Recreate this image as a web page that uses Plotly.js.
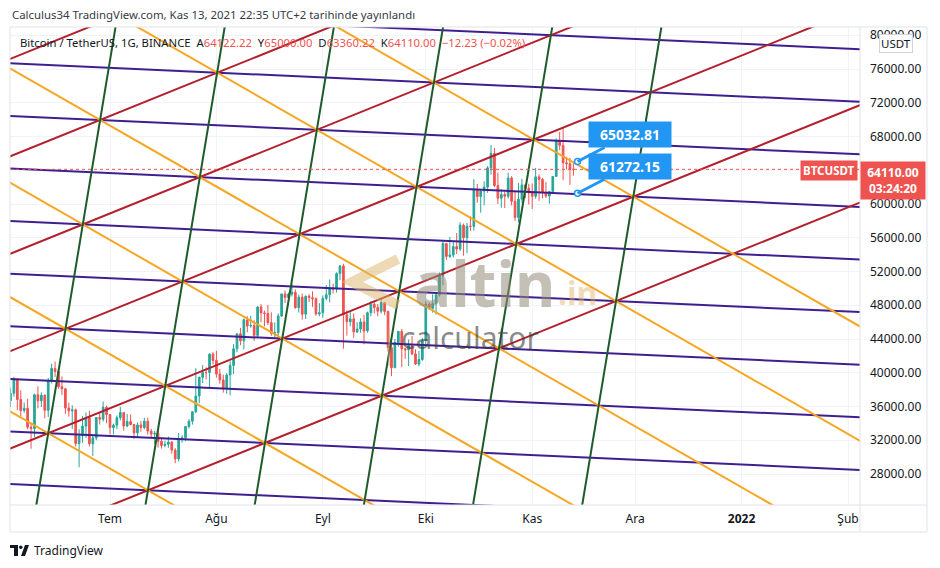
<!DOCTYPE html>
<html><head><meta charset="utf-8">
<script src="https://cdn.plot.ly/plotly-3.0.1.min.js"></script>
<style>html,body{margin:0;padding:0;background:#fff;}#chart{width:940px;height:568px;}</style>
</head><body><div id="chart"></div>
<script>
// ---------- DATA ----------
const dates = [
"2021-06-01","2021-06-02","2021-06-03","2021-06-04","2021-06-05","2021-06-06","2021-06-07","2021-06-08","2021-06-09","2021-06-10","2021-06-11","2021-06-12","2021-06-13","2021-06-14","2021-06-15","2021-06-16","2021-06-17","2021-06-18","2021-06-19","2021-06-20","2021-06-21","2021-06-22","2021-06-23","2021-06-24","2021-06-25","2021-06-26","2021-06-27","2021-06-28","2021-06-29","2021-06-30",
"2021-07-01","2021-07-02","2021-07-03","2021-07-04","2021-07-05","2021-07-06","2021-07-07","2021-07-08","2021-07-09","2021-07-10","2021-07-11","2021-07-12","2021-07-13","2021-07-14","2021-07-15","2021-07-16","2021-07-17","2021-07-18","2021-07-19","2021-07-20","2021-07-21","2021-07-22","2021-07-23","2021-07-24","2021-07-25","2021-07-26","2021-07-27","2021-07-28","2021-07-29","2021-07-30","2021-07-31",
"2021-08-01","2021-08-02","2021-08-03","2021-08-04","2021-08-05","2021-08-06","2021-08-07","2021-08-08","2021-08-09","2021-08-10","2021-08-11","2021-08-12","2021-08-13","2021-08-14","2021-08-15","2021-08-16","2021-08-17","2021-08-18","2021-08-19","2021-08-20","2021-08-21","2021-08-22","2021-08-23","2021-08-24","2021-08-25","2021-08-26","2021-08-27","2021-08-28","2021-08-29","2021-08-30","2021-08-31",
"2021-09-01","2021-09-02","2021-09-03","2021-09-04","2021-09-05","2021-09-06","2021-09-07","2021-09-08","2021-09-09","2021-09-10","2021-09-11","2021-09-12","2021-09-13","2021-09-14","2021-09-15","2021-09-16","2021-09-17","2021-09-18","2021-09-19","2021-09-20","2021-09-21","2021-09-22","2021-09-23","2021-09-24","2021-09-25","2021-09-26","2021-09-27","2021-09-28","2021-09-29","2021-09-30",
"2021-10-01","2021-10-02","2021-10-03","2021-10-04","2021-10-05","2021-10-06","2021-10-07","2021-10-08","2021-10-09","2021-10-10","2021-10-11","2021-10-12","2021-10-13","2021-10-14","2021-10-15","2021-10-16","2021-10-17","2021-10-18","2021-10-19","2021-10-20","2021-10-21","2021-10-22","2021-10-23","2021-10-24","2021-10-25","2021-10-26","2021-10-27","2021-10-28","2021-10-29","2021-10-30","2021-10-31",
"2021-11-01","2021-11-02","2021-11-03","2021-11-04","2021-11-05","2021-11-06","2021-11-07","2021-11-08","2021-11-09","2021-11-10","2021-11-11","2021-11-12","2021-11-13"];

const opens = [
37253,36694,37568,39246,36829,35516,35796,33556,33380,37389,36677,37331,35546,39021,40516,40143,38350,38100,35820,35484,35601,31614,32510,33675,34663,31576,32283,34702,34494,35912,
35045,33502,33786,34669,35288,33690,34221,33863,32875,33816,33502,34259,33086,32729,32820,31874,31384,31521,31779,30839,29791,32144,32288,33635,34262,35381,37242,39456,40019,40018,42207,
41461,39850,39146,38208,39744,40866,42832,44614,43794,46280,45543,45595,44428,47793,47096,47019,45937,44686,44741,46723,49339,48905,49322,49546,47706,48960,46942,49072,48895,48767,46970,
47100,48810,49247,50000,49918,51756,52666,46868,46048,46395,44842,45173,46025,44960,47103,48121,47737,47299,48314,47256,42961,40589,43576,44896,42839,42716,43209,42236,41035,41564,
43820,48142,47635,48200,49225,51472,55316,53786,53955,54949,54660,57471,56005,57373,57347,61672,60875,61528,62005,64280,66002,62193,60689,61125,60917,63079,60328,58414,60575,62254,61860,
61300,60912,63220,62897,61396,60940,61470,63274,67525,66947,64883,64774,64122];

const highs = [
37894,38225,39476,39289,37925,36480,36900,34068,37534,38400,37680,37463,39380,41064,41330,40527,39559,38199,36457,36137,35750,33298,34881,35298,35500,32730,34749,35297,36600,36100,
35057,33977,34945,35967,35293,35118,35059,33920,34100,34262,34666,34678,33340,33114,33185,32249,31939,32435,31899,31063,32858,32591,33650,34500,35398,40550,39542,40900,40640,42316,42448,
42599,40459,39780,39969,41350,43392,44700,45310,46454,46700,46743,46218,47886,48144,47372,48053,47160,45986,47033,49382,49757,49500,50500,49874,49277,49380,49169,49309,49653,48937,48246,
49156,50400,51054,50558,51900,52780,52920,47381,47400,47033,45987,46460,46880,47250,48500,48557,48150,48843,48372,47359,43639,44000,44978,45200,42961,43937,44350,42790,42590,44141,
48495,48353,49300,49530,51886,55750,55338,56100,55489,56561,57839,57680,57777,58532,62933,62378,61718,62695,64486,67000,66639,63732,61747,61470,63710,63293,61496,62499,62980,62359,62405,
62437,64270,63500,63086,62600,61560,63286,67789,68530,69000,65600,65450,65000];

const lows = [
35666,35920,37170,35567,34800,35256,33300,31000,32396,35782,35936,34600,34757,38730,39506,38116,37365,35129,34803,33336,31251,28805,31683,32286,31275,30151,32000,33862,34225,34017,
32711,32699,33316,34357,33125,33532,33777,32133,32261,33004,33307,32658,32203,31550,31133,31020,31164,31108,30407,29278,29482,31708,31925,33401,33851,35205,36383,38772,39200,38313,41000,
39422,38690,37642,37508,37332,39853,42446,43261,42779,44800,45341,43770,44217,45971,45500,45660,44376,44203,43955,46622,48274,48003,49029,47600,47123,46300,46375,48370,47801,46753,46700,
46512,48584,48349,49400,49500,50969,42843,44412,45513,44132,44722,44742,43370,44750,46700,47021,46699,47033,46829,42500,39600,40567,43089,40675,41646,40803,42098,40931,40753,41410,
43283,47438,47120,46891,49022,50382,53357,53617,53661,54080,54415,53879,54167,56818,56850,60150,58963,59844,61322,63481,62000,60000,59562,59524,60650,59817,58000,57820,60174,60673,59945,
59405,60624,60382,60677,60721,60050,61322,63273,66382,62822,64100,62278,63360];

const closes = [
36693,37568,39246,36829,35513,35796,33552,33380,37388,36675,37331,35546,39020,40516,40144,38349,38092,35820,35483,35600,31608,32509,33678,34663,31584,32283,34700,34494,35911,35045,
33504,33786,34669,35287,33690,34220,33862,32875,33815,33502,34259,33086,32729,32820,31880,31383,31520,31778,30839,29790,32144,32287,33634,34258,35381,37237,39457,40019,40016,42206,41461,
39846,39147,38207,39723,40862,42836,44614,43792,46285,45543,45595,44428,47793,47096,47019,45936,44686,44742,46723,49339,48905,49321,49546,47706,48960,46942,49058,48897,48767,46970,47100,
48810,49246,49999,49915,51756,52663,46863,46048,46395,44850,45173,46025,44940,47111,48121,47737,47300,48314,47255,42976,40588,43575,44896,42839,42717,43208,42235,41035,41564,43790,
48141,47634,48200,49224,51471,55315,53785,53951,54949,54659,57471,56005,57367,57347,61672,60875,61528,62010,64280,66001,62193,60689,61125,60916,63079,60329,58413,60575,62253,61859,61300,
60911,63219,62897,61395,60937,61470,63273,67525,66947,64882,64774,64122,64110];

const lastPrice = 64110.00;
const calloutDate = "2021-11-14 05:00";
const calloutPrices = [65032.81, 61272.15];
const calloutLabels = ["65032.81", "61272.15"];

const priceTicks = [28000,32000,36000,40000,44000,48000,52000,56000,60000,64000,68000,72000,76000,80000];
const priceTickLabels = ["28000.00","32000.00","36000.00","40000.00","44000.00","48000.00","52000.00","56000.00","60000.00","","68000.00","72000.00","76000.00","80000.00"];
const monthTickDates = ["2021-07-01","2021-08-01","2021-09-01","2021-10-01","2021-11-01","2021-12-01","2022-01-01","2022-02-01"];
const monthTickLabels = ["Tem","Ağu","Eyl","Eki","Kas","Ara","<b>2022</b>","Şub"];

// Gann-style grid: anchor point and two lattice steps (days, price)
const gridAnchorDate = "2021-06-13";
const gridAnchorPrice = 32836;
const gridStepR = [34.09, 5606];
const gridStepG = [5.04, 12373];
const purpleIdx = [-1,0,1,2,3,4,5,6,7,8];
const redIdx = [-1,0,1,2,3,4];
const orangeIdx = [0,1,2,3,4,5];
const greenIdx = [0,1,2,3,4,5];

// ---------- BUILD ----------
const W=940,H=568,M={l:10,r:80,t:27,b:63};
const PW=W-M.l-M.r, PH=H-M.t-M.b;
const fx=x=>(x-M.l)/PW, fy=y=>(H-M.b-y)/PH;
const DAY=86400000;
const anchorMs=Date.parse(gridAnchorDate+"T00:00:00Z");
const toStr=ms=>new Date(ms).toISOString().slice(0,19).replace('T',' ');
const vec=(a,b)=>[a*gridStepR[0]+b*gridStepG[0], a*gridStepR[1]+b*gridStepG[1]];

function family(indices, base, dir, color){
  const x=[],y=[];
  for(const k of indices){
    for(const t of [-14,14]){
      const d=k*base[0]+t*dir[0], p=k*base[1]+t*dir[1];
      x.push(toStr(anchorMs+d*DAY)); y.push(gridAnchorPrice+p);
    }
    x.push(null); y.push(null);
  }
  return {type:'scatter',mode:'lines',x,y,line:{color,width:2},hoverinfo:'skip',showlegend:false};
}

const UP='#26a69a', DN='#ef5350';
const traces=[
 {type:'candlestick',x:dates,open:opens,high:highs,low:lows,close:closes,
  increasing:{line:{color:UP,width:1},fillcolor:UP},
  decreasing:{line:{color:DN,width:1},fillcolor:DN},
  whiskerwidth:0,showlegend:false,hoverinfo:'skip'},
 family(purpleIdx, vec(1,0), vec(2,-1), '#3f1f8f'),
 family(redIdx, vec(0,1), vec(1,0), '#b3202c'),
 family(orangeIdx, vec(1,0), vec(1,-1), '#f5a623'),
 family(greenIdx, vec(1,0), vec(0,1), '#1e5b2b'),
 {type:'scatter',mode:'markers',x:[calloutDate,calloutDate],y:calloutPrices,
  marker:{size:6,color:'#ffffff',line:{color:'#2196f3',width:1.5}},hoverinfo:'skip',showlegend:false}
];

const F="'Noto Sans', 'Open Sans', sans-serif";
const TXT='#131722';
const sp='\u00a0';
const red=s=>`<span style="color:${DN}">${s}</span>`;
const legendText=`Bitcoin / TetherUS, 1G, BINANCE${sp}${sp}A${red('64122.22')}${sp}${sp}Y${red('65000.00')}${sp}${sp}D${red('63360.22')}${sp}${sp}K${red('64110.00')}${sp}${sp}${red('−12.23 (−0.02%)')}`;

const annotations=[
 {xref:'paper',yref:'paper',x:fx(10),y:fy(14),xanchor:'left',yanchor:'middle',showarrow:false,
  text:'Calculus34 TradingView.com, Kas 13, 2021 22:35 UTC+2 tarihinde yayınlandı',font:{family:F,size:11.4,color:'#363a45'}},
 {xref:'paper',yref:'paper',x:fx(18),y:fy(42),xanchor:'left',yanchor:'middle',showarrow:false,
  text:legendText,font:{family:F,size:11.3,color:TXT}},
 {xref:'paper',yref:'paper',x:fx(895.5),y:fy(44),xanchor:'center',yanchor:'middle',showarrow:false,
  text:'USDT',font:{family:F,size:11.5,color:TXT},bgcolor:'#ffffff',bordercolor:'#d1d4dc',borderwidth:1,borderpad:1},
 {xref:'paper',yref:'y',x:1,y:lastPrice,xanchor:'right',yanchor:'middle',xshift:-2,yshift:-1,showarrow:false,
  text:'<b>BTCUSDT</b>',font:{family:F,size:11.5,color:'#ffffff'},bgcolor:DN,borderpad:2},
 {xref:'paper',yref:'y',x:fx(860),y:lastPrice,xanchor:'left',yanchor:'top',yshift:8,showarrow:false,
  text:'<b>64110.00</b><br><b>03:24:20</b>',font:{family:F,size:12,color:'#ffffff'},bgcolor:DN,width:60,borderpad:2,align:'center'},
 {xref:'paper',yref:'paper',x:fx(484),y:fy(283),xanchor:'center',yanchor:'middle',showarrow:false,
  text:'<b>altin</b>',font:{family:F,size:62,color:'rgba(150,140,122,0.55)'}},
 {xref:'paper',yref:'paper',x:fx(577),y:fy(292),xanchor:'center',yanchor:'middle',showarrow:false,
  text:'<b>.in</b>',font:{family:F,size:32,color:'rgba(225,175,95,0.45)'}},
 {xref:'paper',yref:'paper',x:fx(470),y:fy(337),xanchor:'center',yanchor:'middle',showarrow:false,
  text:'calculator',font:{family:F,size:30,color:'rgba(60,60,60,0.6)'}},
 {xref:'paper',yref:'paper',x:fx(32),y:fy(550),xanchor:'left',yanchor:'middle',showarrow:false,
  text:'TradingView',font:{family:F,size:12,color:TXT}}
];
calloutPrices.forEach((p,i)=>{
  annotations.push({xref:'x',yref:'y',x:calloutDate,y:p,ax:52,ay:-27,axref:'pixel',ayref:'pixel',
   showarrow:true,arrowhead:0,arrowwidth:3,arrowcolor:'#2196f3',standoff:0,
   text:'<b>'+calloutLabels[i]+'</b>',font:{family:F,size:14,color:'#ffffff'},bgcolor:'#2196f3',
   width:76,height:19,borderpad:3});
});

const frameC='#e0e3eb';
const shapes=[
 {type:'line',xref:'paper',yref:'y',x0:0,x1:1,y0:lastPrice,y1:lastPrice,line:{color:DN,width:1,dash:'dot'}},
 {type:'rect',xref:'paper',yref:'paper',x0:0,x1:fx(927),y0:fy(532),y1:1,line:{color:frameC,width:1}},
 {type:'line',xref:'paper',yref:'paper',x0:1,x1:1,y0:fy(532),y1:1,line:{color:frameC,width:1}},
 {type:'line',xref:'paper',yref:'paper',x0:0,x1:fx(927),y0:0,y1:0,line:{color:frameC,width:1}},
 // watermark chevron
 {type:'path',xref:'paper',yref:'paper',
  path:`M ${fx(398)} ${fy(259)} L ${fx(352)} ${fy(282)} L ${fx(398)} ${fy(305)}`,
  line:{color:'rgba(220,180,105,0.5)',width:10}},
 {type:'line',xref:'paper',yref:'paper',x0:fx(389),x1:fx(389),y0:fy(327),y1:fy(366),line:{color:'rgba(200,170,120,0.45)',width:2}},
 // TradingView logo mark
 {type:'rect',xref:'paper',yref:'paper',x0:fx(10),x1:fx(18),y0:fy(548),y1:fy(545),fillcolor:'#131722',line:{width:0}},
 {type:'rect',xref:'paper',yref:'paper',x0:fx(14),x1:fx(18),y0:fy(556),y1:fy(545),fillcolor:'#131722',line:{width:0}},
 {type:'circle',xref:'paper',yref:'paper',x0:fx(19),x1:fx(22.5),y0:fy(549),y1:fy(545.5),fillcolor:'#131722',line:{width:0}},
 {type:'path',xref:'paper',yref:'paper',path:`M ${fx(21)} ${fy(556)} L ${fx(25)} ${fy(545)} L ${fx(29)} ${fy(545)} L ${fx(25)} ${fy(556)} Z`,fillcolor:'#131722',line:{width:0}}
];

const layout={
 width:W,height:H,margin:M,paper_bgcolor:'#ffffff',plot_bgcolor:'#ffffff',
 font:{family:F,size:12,color:TXT},showlegend:false,
 xaxis:{type:'date',range:['2021-06-01 20:48','2022-02-04 11:54'],tickmode:'array',tickvals:monthTickDates,ticktext:monthTickLabels,
  showgrid:true,gridcolor:'#f0f3fa',zeroline:false,showline:false,ticks:'',ticklabelstandoff:5,
  tickfont:{family:F,size:12,color:TXT},rangeslider:{visible:false},fixedrange:true},
 yaxis:{side:'right',range:[24326,80978],tickmode:'array',tickvals:priceTicks,ticktext:priceTickLabels,
  showgrid:true,gridcolor:'#f0f3fa',zeroline:false,showline:false,ticks:'',ticklabelstandoff:9,
  tickfont:{family:F,size:12,color:TXT},fixedrange:true},
 shapes,annotations
};
Plotly.newPlot('chart',traces,layout,{displayModeBar:false,staticPlot:true});
</script></body></html>
